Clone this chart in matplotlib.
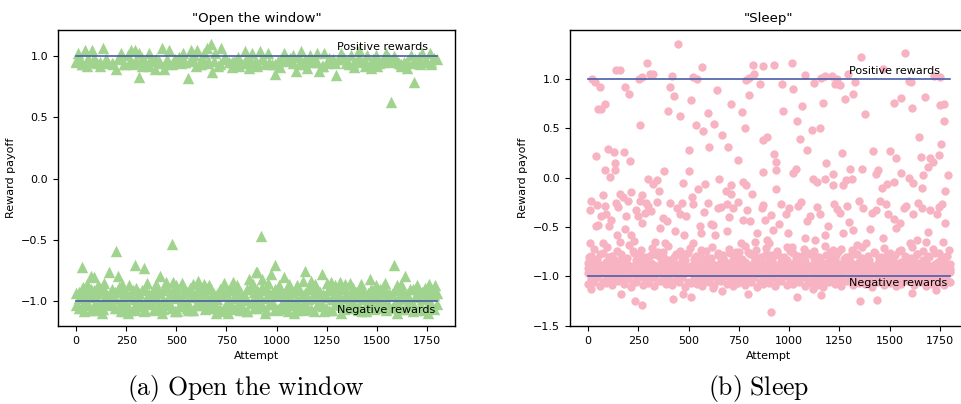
import numpy as np
import matplotlib.pyplot as plt

plt.rcParams["font.family"] = "DejaVu Sans"
plt.rcParams["font.size"] = 8

# ---------------- "Open the window" ----------------
window_pos_x = [0, 12, 28, 45, 61, 78, 102, 135, 160, 185,
                201, 218, 226, 259, 275, 283, 292, 313, 316, 342,
                363, 392, 400, 428, 440, 448, 465, 481, 506, 522,
                534, 560, 572, 588, 605, 613, 638, 654, 671, 679,
                695, 725, 737, 761, 778, 803, 824, 841, 864, 877,
                902, 918, 943, 959, 992, 1017, 1038, 1050, 1083, 1099,
                1124, 1154, 1165, 1182, 1203, 1214, 1236, 1252, 1280, 1296,
                1322, 1346, 1371, 1388, 1412, 1429, 1453, 1470, 1494, 1511,
                1544, 1569, 1585, 1610, 1635, 1651, 1668, 1684, 1701, 1726,
                1750, 1767, 1770]
window_pos_y = [0.95, 1.02, 0.93, 1.05, 0.95, 1.05, 0.94, 1.06, 0.94, 0.93,
                0.89, 0.97, 1.02, 1.01, 1.05, 0.93, 1.05, 0.83, 1.02, 0.95,
                1.02, 0.89, 0.97, 1.06, 0.89, 0.94, 1.05, 0.95, 0.97, 0.94,
                1.02, 0.82, 1.05, 1.01, 1.05, 0.93, 1.02, 1.06, 1.10, 0.87,
                1.02, 1.06, 0.98, 0.95, 0.91, 0.93, 0.94, 1.04, 0.90, 1.02,
                0.94, 1.04, 0.93, 1.02, 0.85, 0.91, 1.02, 0.97, 1.01, 0.88,
                1.04, 0.90, 1.01, 0.95, 1.02, 0.88, 1.02, 0.94, 0.97, 0.84,
                1.02, 0.94, 1.01, 0.91, 1.05, 0.95, 1.01, 0.90, 1.01, 0.94,
                1.02, 0.62, 1.00, 0.94, 0.95, 0.90, 1.01, 0.79, 0.95, 1.02,
                0.95, 1.02, 0.95]
window_pos2_x = [20, 52, 90, 120, 150, 240, 300, 330, 375, 415,
                 455, 495, 545, 580, 625, 660, 710, 745, 790, 815,
                 850, 890, 930, 975, 1005, 1065, 1110, 1140, 1190, 1225,
                 1265, 1310, 1335, 1360, 1400, 1440, 1480, 1525, 1560, 1600,
                 1620, 1690, 1715, 1740, 1785]
window_pos2_y = [0.97, 0.92, 0.98, 0.95, 0.97, 0.93, 0.96, 0.92, 0.98, 0.96,
                 0.93, 0.97, 0.95, 0.98, 0.93, 0.96, 0.92, 0.97, 0.96, 0.92,
                 0.98, 0.95, 0.97, 0.93, 0.96, 0.98, 0.93, 0.97, 0.96, 0.92,
                 0.95, 0.97, 0.98, 0.93, 0.96, 0.92, 0.97, 0.95, 0.98, 0.96,
                 0.92, 0.97, 0.93, 0.96, 0.98]
window_pos3_y = [0.96, 0.93, 0.98, 0.95, 0.92, 0.97, 0.94, 0.99, 0.93, 0.96,
                 0.95, 0.98, 0.92, 0.96, 0.94, 0.97, 0.93, 0.99, 0.95, 0.96,
                 0.92, 0.98, 0.94, 0.96, 0.93, 0.97, 0.95, 0.99, 0.94, 0.96,
                 0.92, 0.98, 0.95, 0.93, 0.97, 0.96, 0.94, 0.99, 0.93, 0.96,
                 0.95, 0.92, 0.98, 0.94, 0.97, 0.95, 0.93, 0.99, 0.96, 0.94,
                 0.92, 0.97, 0.95, 0.98, 0.93, 0.96, 0.94, 0.99, 0.95, 0.93,
                 0.97]

window_out_x = [30, 76, 89, 163, 198, 208, 293, 338, 418, 476,
                482, 610, 781, 863, 896, 923, 903, 992, 972, 926,
                1035, 1140, 1132, 1170, 1228, 1272, 1318, 1366, 1467, 1585,
                1640, 1602, 36, 448, 877, 778]
window_out_y = [-0.72, -0.79, -0.80, -0.76, -0.59, -0.79, -0.70, -0.73, -0.79, -0.53,
                -0.84, -0.83, -0.84, -0.82, -0.76, -0.47, -0.76, -0.70, -0.78, -0.82,
                -0.80, -0.75, -0.83, -0.83, -0.78, -0.84, -0.84, -0.85, -0.82, -0.70,
                -0.79, -0.87, -0.88, -0.84, -0.86, -0.89]
window_peak_x = [55, 110, 140, 230, 265, 355, 400, 500, 530, 585,
                 640, 665, 740, 805, 880, 955, 1010, 1060, 1100, 1190,
                 1250, 1290, 1340, 1420, 1495, 1540, 1620, 1700, 1760, 1790]
window_peak_y = [-0.86, -0.87, -0.85, -0.86, -0.87, -0.85, -0.86, -0.87, -0.85, -0.86,
                 -0.86, -0.87, -0.85, -0.87, -0.86, -0.85, -0.87, -0.86, -0.87, -0.86,
                 -0.85, -0.87, -0.86, -0.86, -0.87, -0.85, -0.86, -0.87, -0.86, -0.87]
window_low_x = [40, 95, 130, 245, 260, 300, 340, 395, 430, 505,
                560, 700, 735, 760, 820, 850, 940, 1000, 1055, 1085,
                1130, 1235, 1320, 1405, 1445, 1600, 1680, 1755]
window_low_y = [-1.08, -1.07, -1.09, -1.08, -1.09, -1.07, -1.08, -1.07, -1.09, -1.08,
                -1.07, -1.09, -1.08, -1.09, -1.07, -1.08, -1.09, -1.07, -1.08, -1.09,
                -1.07, -1.08, -1.09, -1.07, -1.08, -1.09, -1.08, -1.09]

# attempts used for the dense band of negative rewards (both tasks)
band_attempts_a = [0, 28, 61, 88, 121, 150, 178, 212, 240, 271,
                   300, 329, 362, 390, 418, 452, 480, 511, 540, 569,
                   600, 628, 659, 690, 720, 748, 779, 810, 838, 870,
                   900, 929, 961, 990, 1020, 1051, 1080, 1110, 1141, 1170,
                   1200, 1229, 1260, 1290, 1320, 1349, 1380, 1410, 1440, 1471,
                   1500, 1530, 1559, 1590, 1620, 1650, 1681, 1710, 1740, 1770,
                   1799]
band_attempts_b = [14, 45, 74, 104, 136, 164, 195, 226, 256, 286,
                   315, 346, 376, 404, 435, 466, 495, 526, 555, 585,
                   614, 644, 674, 705, 734, 764, 795, 824, 854, 885,
                   914, 945, 975, 1005, 1036, 1066, 1095, 1126, 1155, 1185,
                   1215, 1245, 1275, 1305, 1335, 1365, 1395, 1425, 1456, 1486,
                   1515, 1545, 1575, 1605, 1635, 1666, 1695, 1725, 1755, 1785]

window_band1_y = [-0.93, -0.90, -0.94, -0.91, -0.89, -0.93, -0.90, -0.88, -0.92, -0.95,
                  -0.89, -0.91, -0.94, -0.90, -0.93, -0.88, -0.92, -0.95, -0.90, -0.89,
                  -0.93, -0.91, -0.88, -0.94, -0.90, -0.92, -0.89, -0.93, -0.95, -0.90,
                  -0.91, -0.88, -0.93, -0.90, -0.94, -0.89, -0.92, -0.90, -0.93, -0.88,
                  -0.91, -0.94, -0.89, -0.92, -0.90, -0.93, -0.89, -0.91, -0.94, -0.90,
                  -0.92, -0.88, -0.93, -0.91, -0.89, -0.94, -0.90, -0.92, -0.89, -0.91,
                  -0.93]
window_band2_y = [-0.97, -0.99, -0.96, -0.98, -1.00, -0.96, -0.97, -0.99, -0.95, -0.98,
                  -0.97, -1.00, -0.96, -0.98, -0.99, -0.95, -0.97, -0.98, -1.00, -0.96,
                  -0.97, -0.99, -0.96, -0.98, -0.95, -1.00, -0.97, -0.96, -0.99, -0.98,
                  -0.96, -0.97, -1.00, -0.95, -0.98, -0.97, -0.99, -0.96, -0.98, -0.97,
                  -1.00, -0.96, -0.98, -0.95, -0.97, -0.99, -0.96, -0.98, -1.00, -0.97,
                  -0.96, -0.99, -0.95, -0.98, -0.97, -1.00, -0.96, -0.98, -0.97, -0.95]
window_band3_y = [-1.03, -1.05, -1.02, -1.04, -1.06, -1.01, -1.03, -1.05, -1.02, -1.07,
                  -1.03, -1.04, -1.01, -1.06, -1.03, -1.02, -1.05, -1.04, -1.02, -1.07,
                  -1.03, -1.01, -1.05, -1.03, -1.06, -1.02, -1.04, -1.03, -1.07, -1.01,
                  -1.05, -1.03, -1.02, -1.06, -1.04, -1.03, -1.01, -1.05, -1.02, -1.06,
                  -1.03, -1.04, -1.07, -1.02, -1.03, -1.05, -1.01, -1.04, -1.06, -1.02,
                  -1.03, -1.05, -1.04, -1.01, -1.06, -1.03, -1.02, -1.05, -1.07, -1.03,
                  -1.02]
window_band4_y = [-0.92, -0.94, -0.90, -0.93, -0.91, -0.95, -0.92, -0.90, -0.94, -0.91,
                  -0.93, -0.90, -0.95, -0.92, -0.91, -0.94, -0.90, -0.93, -0.92, -0.95,
                  -0.91, -0.93, -0.90, -0.94, -0.92, -0.91, -0.95, -0.93, -0.90, -0.92,
                  -0.94, -0.91, -0.93, -0.90, -0.95, -0.92, -0.91, -0.94, -0.90, -0.93,
                  -0.92, -0.95, -0.91, -0.93, -0.90, -0.94, -0.92, -0.91, -0.93, -0.95,
                  -0.90, -0.92, -0.94, -0.91, -0.93, -0.90, -0.95, -0.92, -0.94, -0.91]
window_band5_y = [-1.05, -1.03, -1.07, -1.04, -1.06, -1.02, -1.05, -1.08, -1.03, -1.06,
                  -1.04, -1.07, -1.02, -1.05, -1.06, -1.03, -1.08, -1.04, -1.05, -1.07,
                  -1.03, -1.06, -1.02, -1.05, -1.07, -1.04, -1.06, -1.03, -1.08, -1.05,
                  -1.04, -1.07, -1.02, -1.06, -1.05, -1.03, -1.07, -1.04, -1.06, -1.08,
                  -1.03, -1.05, -1.07, -1.02, -1.06, -1.04, -1.05, -1.08, -1.03, -1.06,
                  -1.04, -1.07, -1.05, -1.02, -1.06, -1.03, -1.07, -1.05, -1.04, -1.06]

# ---------------- "Sleep" ----------------
sleep_high_x = [20, 33, 41, 50, 61, 66, 75, 86, 85, 101,
                108, 131, 133, 136, 138, 159, 161, 174, 186, 181,
                202, 211, 212, 251, 260, 270, 270, 294, 299, 310,
                324, 324, 343, 352, 377, 397, 410, 416, 426, 446,
                455, 473, 500, 503, 511, 516, 523, 536, 542, 546,
                569, 572, 582, 596, 604, 625, 640, 649, 665, 685,
                697, 710, 713, 713, 747, 768, 771, 781, 788, 788,
                801, 801, 815, 821, 826, 854, 868, 868, 871, 891,
                924, 927, 934, 937, 934, 967, 970, 1015, 1017, 1017,
                1033, 1040, 1053, 1066, 1077, 1087, 1113, 1126, 1120, 1140,
                1153, 1161, 1170, 1180, 1180, 1186, 1219, 1219, 1211, 1227,
                1239, 1252, 1261, 1269, 1279, 1282, 1291, 1305, 1315, 1319,
                1327, 1360, 1365, 1377, 1418, 1432, 1444, 1461, 1469, 1486,
                1502, 1523, 1523, 1531, 1557, 1557, 1578, 1598, 1608, 1610,
                1598, 1614, 1648, 1658, 1662, 1664, 1675, 1692, 1701, 1714,
                1720, 1748, 1751, 1751, 1756, 1772, 1772, 1778, 1792]
sleep_high_y = [1.00, 0.97, 0.22, 0.70, 0.92, 0.70, -0.18, 0.75, 0.08, 0.29,
                0.01, 0.26, 0.15, 0.08, 1.09, 1.09, -0.16, -0.20, 0.92, 0.26,
                0.85, 0.17, -0.14, 1.00, 0.53, 1.02, -0.18, 1.16, -0.01, 1.05,
                1.05, -0.06, -0.02, -0.13, 0.07, 0.68, 0.92, 1.03, 0.83, 1.36,
                0.63, -0.05, 0.28, 0.07, 0.79, -0.20, 1.02, 0.53, 1.00, -0.11,
                1.12, 0.47, -0.06, 0.66, 0.31, 0.54, 0.89, -0.01, 0.43, -0.13,
                0.31, -0.16, 0.75, -0.07, 0.18, 0.67, -0.04, 0.50, -0.07, 0.99,
                0.84, 1.01, -0.16, 1.14, 1.05, 0.95, 1.13, 0.06, 0.38, 0.41,
                1.14, 0.24, 0.16, 0.08, -0.11, 0.95, 0.68, 1.16, 0.90, 0.05,
                0.09, 0.57, 0.39, 0.73, 1.04, 0.28, 0.48, 0.96, -0.01, -0.04,
                0.50, 1.01, 0.76, 1.03, -0.01, 0.15, 0.04, -0.07, 1.03, 0.95,
                1.00, 0.94, 0.25, -0.07, 0.80, -0.02, 1.05, 0.09, -0.01, 0.85,
                0.97, 1.22, 0.09, 0.65, 0.27, 0.04, 0.08, -0.10, 1.10, -0.06,
                0.27, -0.04, 0.76, 0.20, 0.81, 0.05, 1.26, 0.98, 0.97, 0.71,
                0.00, -0.05, 0.41, 0.21, -0.10, 0.03, 0.82, 0.11, 0.20, 0.16,
                1.03, 0.23, 1.02, 0.74, 0.34, 0.75, 0.57, -0.13, 0.03]

sleep_mid_x = [17, 50, 38, 66, 12, 83, 91, 104, 75, 138,
               146, 158, 191, 199, 216, 227, 257, 249, 285, 290,
               315, 360, 332, 373, 385, 406, 431, 456, 469, 489,
               523, 556, 564, 597, 622, 631, 647, 692, 692, 722,
               735, 759, 771, 805, 831, 863, 879, 888, 901, 921,
               962, 987, 995, 1012, 1045, 1078, 1103, 1128, 1153, 1194,
               1216, 1236, 1266, 1289, 1319, 1336, 1369, 1385, 1410, 1452,
               1467, 1491, 1531, 1552, 1584, 1601, 1618, 1634, 1659, 1681,
               1700, 1736, 1767, 1775, 1759]
sleep_mid_y = [-0.24, -0.48, -0.49, -0.39, -0.66, -0.29, -0.37, -0.49, -0.66, -0.26,
               -0.58, -0.65, -0.39, -0.24, -0.58, -0.64, -0.24, -0.39, -0.36, -0.26,
               -0.34, -0.51, -0.65, -0.41, -0.66, -0.26, -0.54, -0.37, -0.26, -0.39,
               -0.66, -0.49, -0.56, -0.26, -0.48, -0.58, -0.31, -0.54, -0.27, -0.31,
               -0.75, -0.66, -0.43, -0.44, -0.65, -0.31, -0.43, -0.63, -0.66, -0.53,
               -0.27, -0.37, -0.56, -0.70, -0.29, -0.61, -0.39, -0.63, -0.37, -0.49,
               -0.73, -0.32, -0.56, -0.29, -0.53, -0.68, -0.31, -0.66, -0.36, -0.24,
               -0.61, -0.37, -0.51, -0.46, -0.29, -0.66, -0.37, -0.63, -0.31, -0.65,
               -0.33, -0.37, -0.65, -0.46, -0.27]
sleep_mid2_x = [8, 45, 112, 150, 183, 240, 268, 300, 345, 395,
                440, 478, 520, 575, 610, 660, 700, 745, 790, 840,
                870, 910, 950, 1000, 1060, 1090, 1140, 1180, 1225, 1255,
                1300, 1350, 1400, 1430, 1480, 1520, 1570, 1640, 1690, 1745]
sleep_mid2_y = [-0.33, -0.28, -0.43, -0.30, -0.52, -0.33, -0.46, -0.29, -0.25, -0.44,
                -0.31, -0.58, -0.27, -0.35, -0.47, -0.30, -0.40, -0.25, -0.33, -0.56,
                -0.28, -0.38, -0.47, -0.31, -0.25, -0.44, -0.30, -0.58, -0.27, -0.36,
                -0.45, -0.24, -0.52, -0.33, -0.27, -0.42, -0.31, -0.26, -0.55, -0.30]

sleep_edge_x = [5, 30, 60, 95, 120, 145, 175, 205, 230, 262,
                290, 318, 345, 372, 398, 425, 455, 482, 508, 535,
                560, 590, 615, 645, 672, 700, 728, 752, 780, 808,
                835, 860, 885, 912, 940, 965, 992, 1018, 1045, 1072,
                1098, 1125, 1150, 1178, 1205, 1232, 1258, 1285, 1312, 1338,
                1365, 1392, 1420, 1447, 1474, 1500, 1528, 1555, 1582, 1610,
                1638, 1665, 1692, 1718, 1745, 1772, 1795]
sleep_edge_y = [-0.80, -0.72, -0.77, -0.70, -0.79, -0.74, -0.81, -0.68, -0.76, -0.73,
                -0.80, -0.71, -0.78, -0.75, -0.69, -0.80, -0.74, -0.77, -0.71, -0.79,
                -0.73, -0.81, -0.70, -0.76, -0.78, -0.72, -0.80, -0.75, -0.69, -0.77,
                -0.73, -0.80, -0.71, -0.78, -0.74, -0.81, -0.70, -0.76, -0.79, -0.72,
                -0.77, -0.74, -0.80, -0.69, -0.75, -0.78, -0.72, -0.80, -0.73, -0.77,
                -0.70, -0.79, -0.75, -0.81, -0.71, -0.76, -0.78, -0.73, -0.80, -0.70,
                -0.77, -0.74, -0.79, -0.72, -0.76, -0.80, -0.73]

sleep_low_x = [17, 166, 232, 270, 423, 473, 514, 664, 796, 908,
               1037, 1161, 1352, 1435, 1609, 1730, 1120, 622]
sleep_low_y = [-1.13, -1.18, -1.25, -1.29, -1.23, -1.18, -1.21, -1.15, -1.18, -1.36,
               -1.21, -1.19, -1.25, -1.24, -1.17, -1.14, -1.13, -1.12]

sleep_band1_y = [-0.86, -0.83, -0.88, -0.85, -0.82, -0.87, -0.84, -0.89, -0.83, -0.86,
                 -0.85, -0.88, -0.82, -0.86, -0.84, -0.87, -0.83, -0.89, -0.85, -0.86,
                 -0.82, -0.88, -0.84, -0.86, -0.83, -0.87, -0.85, -0.89, -0.84, -0.86,
                 -0.82, -0.88, -0.85, -0.83, -0.87, -0.86, -0.84, -0.89, -0.83, -0.86,
                 -0.85, -0.82, -0.88, -0.84, -0.87, -0.85, -0.83, -0.89, -0.86, -0.84,
                 -0.82, -0.87, -0.85, -0.88, -0.83, -0.86, -0.84, -0.89, -0.85, -0.83,
                 -0.87]
sleep_band2_y = [-0.92, -0.90, -0.94, -0.91, -0.93, -0.89, -0.92, -0.95, -0.90, -0.93,
                 -0.91, -0.94, -0.89, -0.92, -0.93, -0.90, -0.95, -0.91, -0.92, -0.94,
                 -0.90, -0.93, -0.89, -0.92, -0.94, -0.91, -0.93, -0.90, -0.95, -0.92,
                 -0.91, -0.94, -0.89, -0.93, -0.92, -0.90, -0.94, -0.91, -0.93, -0.95,
                 -0.90, -0.92, -0.94, -0.89, -0.93, -0.91, -0.92, -0.95, -0.90, -0.93,
                 -0.91, -0.94, -0.92, -0.89, -0.93, -0.90, -0.94, -0.92, -0.91, -0.93]
sleep_band3_y = [-0.97, -0.99, -0.96, -0.98, -1.00, -0.97, -0.95, -0.98, -0.99, -0.96,
                 -0.97, -1.00, -0.96, -0.98, -0.95, -0.99, -0.97, -0.96, -1.00, -0.98,
                 -0.97, -0.95, -0.99, -0.96, -0.98, -0.97, -1.00, -0.96, -0.98, -0.99,
                 -0.95, -0.97, -0.98, -0.96, -1.00, -0.97, -0.99, -0.95, -0.98, -0.96,
                 -0.97, -1.00, -0.98, -0.96, -0.99, -0.97, -0.95, -0.98, -1.00, -0.96,
                 -0.97, -0.99, -0.98, -0.95, -0.97, -1.00, -0.96, -0.98, -0.99, -0.97,
                 -0.96]
sleep_band4_y = [-1.03, -1.01, -1.05, -1.02, -1.04, -1.00, -1.03, -1.06, -1.01, -1.04,
                 -1.02, -1.05, -1.00, -1.03, -1.04, -1.01, -1.06, -1.02, -1.03, -1.05,
                 -1.01, -1.04, -1.00, -1.03, -1.05, -1.02, -1.04, -1.01, -1.06, -1.03,
                 -1.02, -1.05, -1.00, -1.04, -1.03, -1.01, -1.05, -1.02, -1.04, -1.06,
                 -1.01, -1.03, -1.05, -1.00, -1.04, -1.02, -1.03, -1.06, -1.01, -1.04,
                 -1.02, -1.05, -1.03, -1.00, -1.04, -1.01, -1.05, -1.03, -1.02, -1.04]
sleep_band5_y = [-1.08, -1.06, -1.10, -1.07, -1.09, -1.05, -1.08, -1.11, -1.06, -1.09,
                 -1.07, -1.10, -1.05, -1.08, -1.09, -1.06, -1.11, -1.07, -1.08, -1.10,
                 -1.06, -1.09, -1.05, -1.08, -1.10, -1.07, -1.09, -1.06, -1.11, -1.08,
                 -1.07, -1.10, -1.05, -1.09, -1.08, -1.06, -1.10, -1.07, -1.09, -1.11,
                 -1.06, -1.08, -1.10, -1.05, -1.09, -1.07, -1.08, -1.11, -1.06, -1.09,
                 -1.07, -1.10, -1.08, -1.05, -1.09, -1.06, -1.10, -1.08, -1.07, -1.09,
                 -1.06]
sleep_band6_y = [-0.87, -0.85, -0.89, -0.86, -0.88, -0.84, -0.87, -0.90, -0.85, -0.88,
                 -0.86, -0.89, -0.84, -0.87, -0.88, -0.85, -0.90, -0.86, -0.87, -0.89,
                 -0.85, -0.88, -0.84, -0.87, -0.89, -0.86, -0.88, -0.85, -0.90, -0.87,
                 -0.86, -0.89, -0.84, -0.88, -0.87, -0.85, -0.89, -0.86, -0.88, -0.90,
                 -0.85, -0.87, -0.89, -0.84, -0.88, -0.86, -0.87, -0.90, -0.85, -0.88,
                 -0.86, -0.89, -0.87, -0.84, -0.88, -0.85, -0.89, -0.87, -0.86, -0.88]
sleep_band7_y = [-0.98, -1.00, -0.96, -0.99, -0.97, -1.01, -0.98, -0.96, -1.00, -0.97,
                 -0.99, -0.96, -1.01, -0.98, -0.97, -1.00, -0.96, -0.99, -0.98, -1.01,
                 -0.97, -0.99, -0.96, -1.00, -0.98, -0.97, -1.01, -0.99, -0.96, -0.98,
                 -1.00, -0.97, -0.99, -0.96, -1.01, -0.98, -0.97, -1.00, -0.96, -0.99,
                 -0.98, -1.01, -0.97, -0.99, -0.96, -1.00, -0.98, -0.97, -0.99, -1.01,
                 -0.96, -0.98, -1.00, -0.97, -0.99, -0.96, -1.01, -0.98, -1.00, -0.97]
sleep_band8_y = [-0.91, -0.93, -0.90, -0.94, -0.92, -0.89, -0.93, -0.91, -0.95, -0.90,
                 -0.92, -0.94, -0.91, -0.89, -0.93, -0.92, -0.90, -0.94, -0.91, -0.93,
                 -0.95, -0.90, -0.92, -0.91, -0.93, -0.89, -0.94, -0.92, -0.90, -0.93,
                 -0.91, -0.95, -0.92, -0.90, -0.93, -0.91, -0.89, -0.94, -0.92, -0.90,
                 -0.93, -0.91, -0.95, -0.90, -0.92, -0.94, -0.91, -0.89, -0.93, -0.92,
                 -0.90, -0.94, -0.91, -0.93, -0.95, -0.90, -0.92, -0.91, -0.93, -0.89,
                 -0.92]
sleep_band9_y = [-0.79, -0.82, -0.76, -0.80, -0.83, -0.77, -0.81, -0.74, -0.79, -0.82,
                 -0.78, -0.75, -0.81, -0.83, -0.77, -0.80, -0.76, -0.82, -0.79, -0.74,
                 -0.81, -0.78, -0.83, -0.76, -0.80, -0.82, -0.75, -0.79, -0.81, -0.77,
                 -0.83, -0.78, -0.80, -0.74, -0.82, -0.79, -0.76, -0.81, -0.83, -0.78,
                 -0.80, -0.75, -0.82, -0.79, -0.77, -0.81, -0.83, -0.76, -0.80, -0.78,
                 -0.82, -0.74, -0.79, -0.81, -0.77, -0.83, -0.80, -0.76, -0.82, -0.79]

n_attempts = 1800
line_color = "#4a5ea8"

# combine the pieces of each task
window_x = np.concatenate([window_pos_x, window_pos2_x, band_attempts_a, window_out_x,
                           window_peak_x, window_low_x, band_attempts_a, band_attempts_b,
                           band_attempts_a, band_attempts_b, band_attempts_b])
window_y = np.concatenate([window_pos_y, window_pos2_y, window_pos3_y, window_out_y,
                           window_peak_y, window_low_y, window_band1_y, window_band2_y,
                           window_band3_y, window_band4_y, window_band5_y])
sleep_x = np.concatenate([sleep_high_x, sleep_mid_x, sleep_mid2_x, sleep_edge_x, sleep_low_x,
                          band_attempts_a, band_attempts_b, band_attempts_a,
                          band_attempts_b, band_attempts_a, band_attempts_b,
                          band_attempts_b, band_attempts_a, band_attempts_b])
sleep_y = np.concatenate([sleep_high_y, sleep_mid_y, sleep_mid2_y, sleep_edge_y, sleep_low_y,
                          sleep_band1_y, sleep_band2_y, sleep_band3_y,
                          sleep_band4_y, sleep_band5_y, sleep_band6_y,
                          sleep_band7_y, sleep_band8_y, sleep_band9_y])

fig = plt.figure(figsize=(9.61, 4.04), dpi=100)

# (a) Open the window
ax1 = fig.add_axes([0.0604, 0.193, 0.4131, 0.7327])
ax1.scatter(window_x, window_y, marker="^", s=68, color="#a0d38e", linewidths=0)
ax1.plot([0, n_attempts], [1, 1], color=line_color, lw=1.2)
ax1.plot([0, n_attempts], [-1, -1], color=line_color, lw=1.2)
ax1.text(1300, 1.05, "Positive rewards", fontsize=8)
ax1.text(1300, -1.095, "Negative rewards", fontsize=8)
ax1.set_xlim(-90, 1890)
ax1.set_ylim(-1.2, 1.21)
ax1.set_yticks([-1.0, -0.5, 0.0, 0.5, 1.0])
ax1.set_title('"Open the window"', fontsize=9.6)
ax1.set_xlabel("Attempt")
ax1.set_ylabel("Reward payoff")

# (b) Sleep
ax2 = fig.add_axes([0.5931, 0.193, 0.4142, 0.7327])
ax2.scatter(sleep_x, sleep_y, marker="o", s=36, color="#f7b3c1", linewidths=0)
ax2.plot([0, n_attempts], [1, 1], color=line_color, lw=1.2)
ax2.plot([0, n_attempts], [-1, -1], color=line_color, lw=1.2)
ax2.text(1300, 1.05, "Positive rewards", fontsize=8)
ax2.text(1300, -1.095, "Negative rewards", fontsize=8)
ax2.set_xlim(-90, 1890)
ax2.set_ylim(-1.503, 1.497)
ax2.set_title('"Sleep"', fontsize=9.6)
ax2.set_xlabel("Attempt")
ax2.set_ylabel("Reward payoff")

for ax in (ax1, ax2):
    ax.set_xticks([0, 250, 500, 750, 1000, 1250, 1500, 1750])
    for sp in ax.spines.values():
        sp.set_linewidth(1.0)

# sub-figure captions
fig.text(0.256, 0.022, r"$\mathrm{(a)\ Open\ the\ window}$", ha="center", va="baseline",
         fontsize=18.5, math_fontfamily="cm")
fig.text(0.789, 0.022, r"$\mathrm{(b)\ Sleep}$", ha="center", va="baseline",
         fontsize=18.5, math_fontfamily="cm")

fig.savefig("out.png", dpi=100)
